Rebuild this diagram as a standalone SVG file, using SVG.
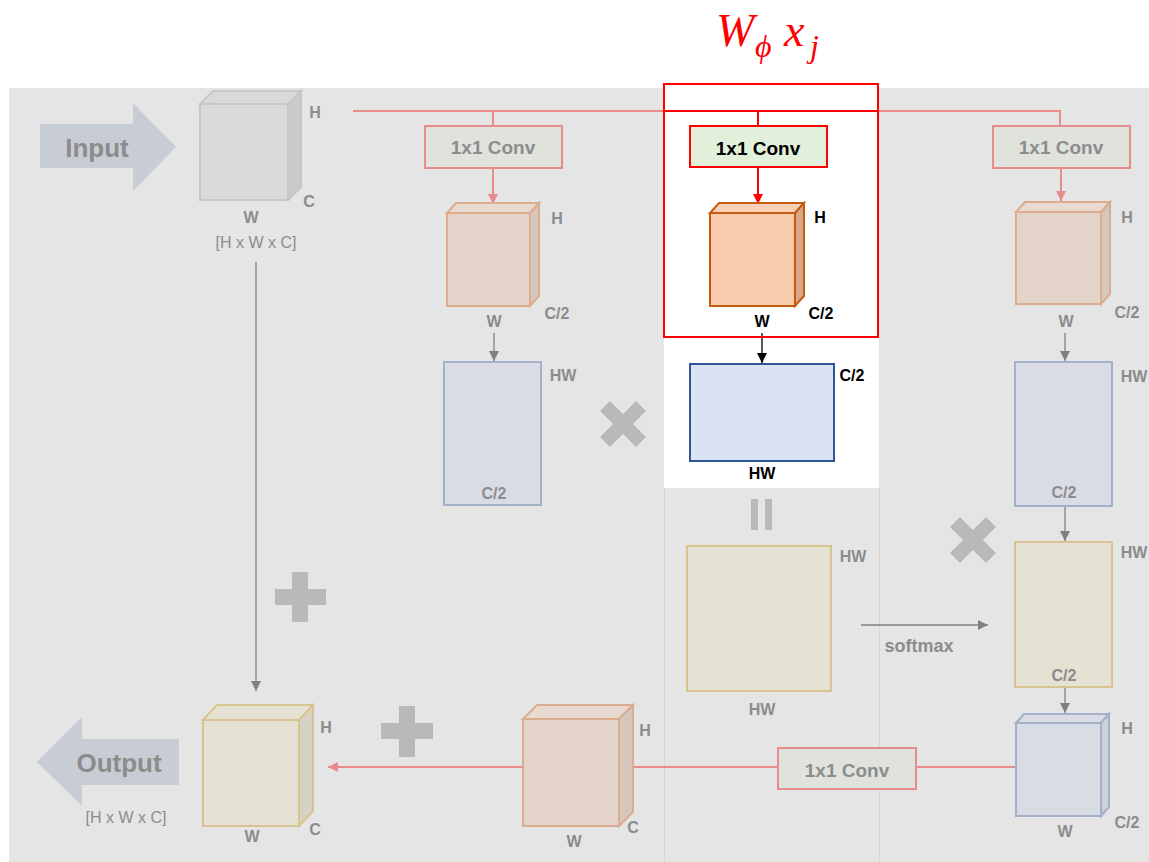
<svg xmlns="http://www.w3.org/2000/svg" width="1149" height="862" viewBox="0 0 1149 862">
<defs>
<style>
.lbl{font-family:"Liberation Sans",Arial,sans-serif;font-weight:bold;font-size:16px;fill:#8c8c8c;text-anchor:middle}
.lblk{font-family:"Liberation Sans",Arial,sans-serif;font-weight:bold;font-size:16px;fill:#000;text-anchor:middle}
.dim{font-family:"Liberation Sans",Arial,sans-serif;font-size:16px;fill:#8c8c8c;text-anchor:middle}
.conv{font-family:"Liberation Sans",Arial,sans-serif;font-weight:bold;font-size:19px;fill:#8c8c8c;text-anchor:middle}
.big{font-family:"Liberation Sans",Arial,sans-serif;font-weight:bold;font-size:26px;fill:#8c8c8c;text-anchor:middle}
.fr{fill:none;stroke:#e88b8b;stroke-width:2}
.rr{fill:none;stroke:#ff0000;stroke-width:2}
.gl{fill:none;stroke:#808080;stroke-width:1.3}
.bl{fill:none;stroke:#000;stroke-width:1.3}
.convbox{fill:#dfe3dc;stroke:#e88b8b;stroke-width:2}
.or-f{fill:#e4d3c8;stroke:#dcac8e;stroke-width:2}
.or-t{fill:#e8dad0;stroke:#dcac8e;stroke-width:2}
.or-s{fill:#d6c7bd;stroke:#dcac8e;stroke-width:2}
.bu-f{fill:#d9dce4;stroke:#a2b0c8;stroke-width:2}
.bu-s{fill:#cdd1da;stroke:#a2b0c8;stroke-width:2}
.ye-f{fill:#e5e1d3;stroke:#d8c48e;stroke-width:2}
.ye-s{fill:#d5d1c4;stroke:#d8c48e;stroke-width:2}
.gr-f{fill:#d9d9d9;stroke:#c7c7c7;stroke-width:2}
.gr-s{fill:#cacaca;stroke:#c7c7c7;stroke-width:2}
.op{fill:#b9b9b9}
</style>
<marker id="afr" markerUnits="userSpaceOnUse" markerWidth="10" markerHeight="10" refX="10" refY="5" orient="auto"><path d="M0,0 L10,5 L0,10 z" fill="#e88b8b"/></marker>
<marker id="arr" markerUnits="userSpaceOnUse" markerWidth="10" markerHeight="10" refX="10" refY="5" orient="auto"><path d="M0,0 L10,5 L0,10 z" fill="#ff0000"/></marker>
<marker id="agr" markerUnits="userSpaceOnUse" markerWidth="10" markerHeight="10" refX="10" refY="5" orient="auto"><path d="M0,0 L10,5 L0,10 z" fill="#808080"/></marker>
<marker id="abl" markerUnits="userSpaceOnUse" markerWidth="10" markerHeight="10" refX="10" refY="5" orient="auto"><path d="M0,0 L10,5 L0,10 z" fill="#000"/></marker>
</defs>
<rect width="1149" height="862" fill="#ffffff"/>
<rect x="9" y="88" width="1140" height="774" fill="#e5e5e5"/>
<rect x="664" y="84" width="215" height="404" fill="#ffffff"/>
<line x1="664.5" y1="488" x2="664.5" y2="862" stroke="#d6d6d6"/>
<line x1="879.5" y1="488" x2="879.5" y2="862" stroke="#d6d6d6"/>

<g id="title">
<text font-family="'Liberation Serif','Times New Roman',serif" font-style="italic" fill="#ff0000"><tspan x="716" y="46" font-size="46">W</tspan><tspan x="755" y="57" font-size="32">ϕ</tspan><tspan x="784" y="46" font-size="46">x</tspan><tspan x="810" y="57" font-size="32">j</tspan></text>
</g>

<g id="connectors">
<path class="fr" d="M353,111 H1060 V126"/>
<path class="fr" d="M493,111 V126"/>
<path class="fr" d="M493,168 V204" marker-end="url(#afr)"/>
<path class="fr" d="M1061,168 V201" marker-end="url(#afr)"/>
<path class="rr" d="M664,111 H878"/>
<path class="rr" d="M758,111 V126"/>
<path class="rr" d="M758,167 V204" marker-end="url(#arr)"/>
<path class="gl" d="M494,333 V361" marker-end="url(#agr)"/>
<path class="bl" d="M762,333 V363" marker-end="url(#abl)"/>
<path class="gl" d="M1065,333 V361" marker-end="url(#agr)"/>
<path class="gl" d="M1065,506 V541" marker-end="url(#agr)"/>
<path class="gl" d="M1065,687 V713" marker-end="url(#agr)"/>
<path class="gl" d="M256,262 V691" marker-end="url(#agr)"/>
<path class="gl" d="M861,625 H988" marker-end="url(#agr)"/>
<text class="lbl" x="919" y="652" style="font-size:18px">softmax</text>
<path class="fr" d="M1016,767 H328" marker-end="url(#afr)"/>
</g>

<g id="input-arrow">
<path d="M40,124 H133 V103 L176,147 L133,191 V168 H40 z" fill="#c8ccd4"/>
<text class="big" x="97" y="157">Input</text>
</g>

<g id="input-cube">
<rect class="gr-f" x="200" y="104" width="88" height="96"/>
<polygon class="gr-f" points="200,104 213,91 301,91 288,104"/>
<polygon class="gr-s" points="288,104 301,91 301,187 288,200"/>
<text class="lbl" x="315" y="118">H</text>
<text class="lbl" x="309" y="207">C</text>
<text class="lbl" x="251" y="223">W</text>
<text class="dim" x="256" y="248">[H x W x C]</text>
</g>

<g id="conv-left">
<rect class="convbox" x="425" y="126" width="137" height="42"/>
<text class="conv" x="493" y="154">1x1 Conv</text>
</g>
<g id="conv-mid">
<rect x="690" y="126" width="137" height="41" fill="#e2efda" stroke="#ff0000" stroke-width="2"/>
<text class="conv" x="758" y="155" style="fill:#000">1x1 Conv</text>
</g>
<g id="conv-right">
<rect class="convbox" x="993" y="126" width="137" height="42"/>
<text class="conv" x="1061" y="154">1x1 Conv</text>
</g>

<g id="cube-left">
<rect class="or-f" x="447" y="213" width="83" height="93"/>
<polygon class="or-t" points="447,213 456,203 539,203 530,213"/>
<polygon class="or-s" points="530,213 539,203 539,296 530,306"/>
<text class="lbl" x="557" y="224">H</text>
<text class="lbl" x="557" y="319">C/2</text>
<text class="lbl" x="494" y="327">W</text>
</g>

<g id="cube-mid">
<rect x="710" y="213" width="85" height="93" fill="#f8cbad" stroke="#c55a11" stroke-width="2"/>
<polygon points="710,213 719,203 804,203 795,213" fill="#f9d3b9" stroke="#c55a11" stroke-width="2"/>
<polygon points="795,213 804,203 804,296 795,306" fill="#d9a88a" stroke="#c55a11" stroke-width="2"/>
<text class="lblk" x="820" y="223">H</text>
<text class="lblk" x="821" y="319">C/2</text>
<text class="lblk" x="762" y="327">W</text>
</g>

<g id="cube-right">
<rect class="or-f" x="1016" y="212" width="85" height="92"/>
<polygon class="or-t" points="1016,212 1025,202 1110,202 1101,212"/>
<polygon class="or-s" points="1101,212 1110,202 1110,294 1101,304"/>
<text class="lbl" x="1127" y="223">H</text>
<text class="lbl" x="1127" y="318">C/2</text>
<text class="lbl" x="1066" y="327">W</text>
</g>

<g id="mat-left">
<rect class="bu-f" x="444" y="362" width="97" height="143"/>
<text class="lbl" x="563" y="381">HW</text>
<text class="lbl" x="494" y="499">C/2</text>
</g>

<g id="mat-mid">
<rect x="690" y="364" width="144" height="97" fill="#dae3f3" stroke="#2f5597" stroke-width="2"/>
<text class="lblk" x="852" y="381">C/2</text>
<text class="lblk" x="762" y="479">HW</text>
</g>

<g id="mat-right">
<rect class="bu-f" x="1015" y="362" width="97" height="144"/>
<text class="lbl" x="1134" y="382">HW</text>
<text class="lbl" x="1064" y="498">C/2</text>
</g>

<g id="times-1">
<path d="M605,406 L641,442 M641,406 L605,442" stroke="#b9b9b9" stroke-width="14"/>
</g>
<g id="times-2">
<path d="M955,522 L991,558 M991,522 L955,558" stroke="#b9b9b9" stroke-width="14"/>
</g>

<g id="equals">
<rect class="op" x="751" y="499" width="7" height="31"/>
<rect class="op" x="765" y="499" width="7" height="31"/>
</g>

<g id="attn-map">
<rect class="ye-f" x="687" y="546" width="144" height="145"/>
<text class="lbl" x="853" y="562">HW</text>
<text class="lbl" x="762" y="715">HW</text>
</g>

<g id="attn-out">
<rect class="ye-f" x="1015" y="542" width="97" height="145"/>
<text class="lbl" x="1134" y="558">HW</text>
<text class="lbl" x="1064" y="681">C/2</text>
</g>

<g id="cube-blue">
<rect class="bu-f" x="1016" y="723" width="85" height="93"/>
<polygon class="bu-f" points="1016,723 1024,714 1109,714 1101,723"/>
<polygon class="bu-s" points="1101,723 1109,714 1109,807 1101,816"/>
<text class="lbl" x="1127" y="734">H</text>
<text class="lbl" x="1127" y="828">C/2</text>
<text class="lbl" x="1065" y="837">W</text>
</g>

<g id="conv-bottom">
<rect class="convbox" x="778" y="748" width="138" height="41"/>
<text class="conv" x="847" y="777">1x1 Conv</text>
</g>

<g id="cube-bottom">
<rect class="or-f" x="523" y="719" width="96" height="107"/>
<polygon class="or-t" points="523,719 537,705 633,705 619,719"/>
<polygon class="or-s" points="619,719 633,705 633,812 619,826"/>
<text class="lbl" x="645" y="736">H</text>
<text class="lbl" x="633" y="833">C</text>
<text class="lbl" x="574" y="847">W</text>
</g>

<g id="plus-1">
<rect class="op" x="292" y="572" width="16" height="50"/>
<rect class="op" x="275" y="589" width="51" height="16"/>
</g>
<g id="plus-2">
<rect class="op" x="399" y="706" width="16" height="51"/>
<rect class="op" x="381" y="723" width="52" height="16"/>
</g>

<g id="output-cube">
<rect class="ye-f" x="203" y="720" width="96" height="106"/>
<polygon class="ye-f" points="203,720 217,705 313,705 299,720"/>
<polygon class="ye-s" points="299,720 313,705 313,811 299,826"/>
<text class="lbl" x="326" y="733">H</text>
<text class="lbl" x="315" y="835">C</text>
<text class="lbl" x="252" y="842">W</text>
</g>

<g id="output-arrow">
<path d="M37,762 L82,717 V739 H179 V785 H82 V806 z" fill="#c8ccd4"/>
<text class="big" x="119" y="772">Output</text>
<text class="dim" x="126" y="823">[H x W x C]</text>
</g>

<g id="highlight">
<rect x="664" y="84" width="214" height="253" fill="none" stroke="#ff0000" stroke-width="2"/>
</g>
</svg>
